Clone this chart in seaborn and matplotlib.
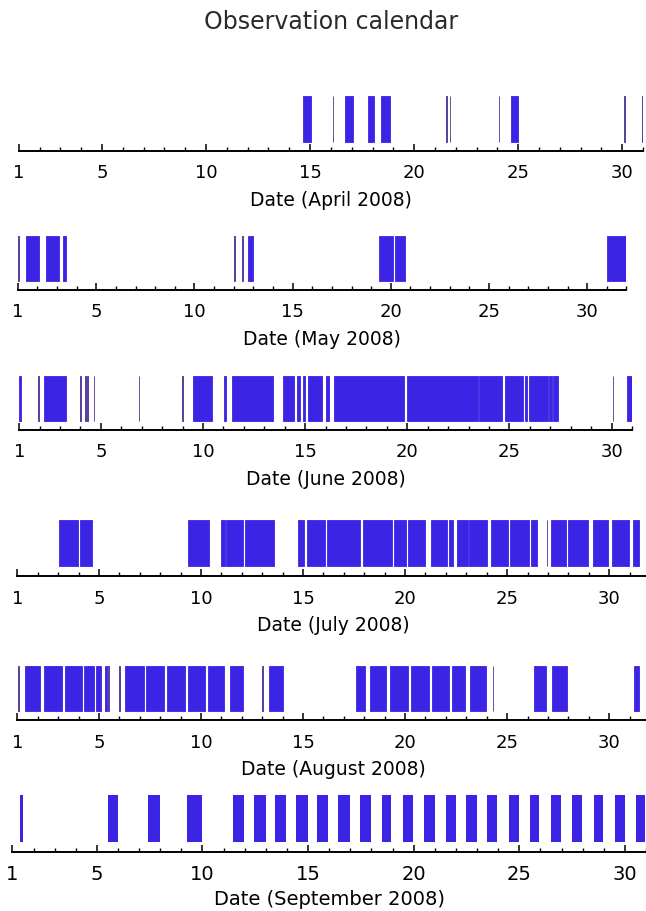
import numpy as np
import pandas as pd
import matplotlib
matplotlib.use("Agg")
import matplotlib.pyplot as plt
import seaborn as sns
from matplotlib.ticker import FixedLocator, MultipleLocator

# ---- data: observation intervals (day-of-month start, end) ----
months = ["April", "May", "June", "July", "August", "September"]

april = [(14.65, 15.05), (16.08, 16.12), (16.69, 17.08), (17.76, 18.08), (18.39, 18.83),
         (21.53, 21.56), (21.71, 21.74), (24.07, 24.10), (24.67, 25.0), (30.11, 30.14),
         (30.94, 31.0)]
may = [(1.02, 1.05), (1.4, 2.1), (2.45, 3.1), (3.31, 3.46), (12.02, 12.05), (12.44, 12.47),
       (12.73, 13.0), (19.42, 20.09), (20.2, 20.73), (31.0, 32.0)]
june = [(1.0, 1.07), (1.93, 1.96), (2.2, 3.29), (3.98, 4.01), (4.24, 4.29), (4.32, 4.36),
        (4.65, 4.68), (6.85, 6.88), (8.99, 9.02), (9.52, 10.44), (11.01, 11.13), (11.4, 13.41),
        (13.93, 14.46), (14.58, 14.74), (14.88, 15.0), (15.14, 15.83), (16.0, 16.19),
        (16.43, 19.82), (19.98, 23.45), (23.53, 24.66), (24.76, 25.66), (25.76, 25.87),
        (25.97, 26.88), (26.96, 27.08), (27.14, 27.38), (30.05, 30.08), (30.75, 31.0)]
july = [(3.02, 3.95), (4.05, 4.68), (9.36, 10.37), (10.98, 11.16), (11.22, 12.07), (12.15, 13.59),
        (14.74, 15.06), (15.2, 16.07), (16.15, 17.77), (17.93, 19.34), (19.44, 20.05),
        (20.15, 21.0), (21.26, 22.07), (22.17, 22.37), (22.53, 23.08), (23.14, 23.99),
        (24.19, 25.04), (25.12, 26.05), (26.15, 26.47), (26.93, 26.96), (27.16, 27.87),
        (27.99, 28.98), (29.2, 29.95), (30.15, 30.96), (31.16, 31.46)]
august = [(1.05, 1.08), (1.4, 2.11), (2.33, 3.18), (3.32, 4.15), (4.29, 4.76), (4.84, 5.1),
          (5.3, 5.4), (5.44, 5.5), (5.99, 6.02), (6.27, 7.22), (7.32, 8.19), (8.33, 9.2),
          (9.34, 10.19), (10.35, 11.12), (11.4, 12.07), (13.01, 13.04), (13.32, 14.01),
          (17.6, 18.05), (18.29, 19.08), (19.28, 20.15), (20.31, 21.16), (21.3, 22.13),
          (22.31, 22.94), (23.18, 23.95), (24.3, 24.33), (26.31, 26.92), (27.22, 27.93),
          (31.2, 31.46)]
september = [(1.37, 1.45), (5.52, 5.93), (7.41, 7.92), (9.28, 9.34), (9.42, 9.93), (11.43, 11.92),
             (12.46, 12.95), (13.42, 13.9), (14.45, 14.96), (15.42, 15.91), (16.44, 16.95),
             (17.47, 17.92), (18.49, 18.58), (18.64, 18.7), (18.76, 18.9), (19.48, 19.91),
             (20.49, 20.94), (21.51, 21.96), (22.5, 22.93), (23.48, 23.9), (24.51, 24.94),
             (25.5, 25.91), (26.5, 26.93), (27.51, 27.9), (28.52, 28.93), (29.52, 29.95),
             (30.53, 30.92)]

month_end = [31, 32, 31, 32, 32, 31]
major_ticks = [1, 5, 10, 15, 20, 25, 30]
tick_labels = ["1", "5", "10", "15", "20", "25", "30"]
title = "Observation calendar"

intervals = [april, may, june, july, august, september]

# ---- style ----
sns.set_theme(style="white")
plt.rcParams["font.family"] = ["DejaVu Sans"]

W, H = 646, 912
fig = plt.figure(figsize=(W / 100, H / 100), dpi=100)

# layout in pixels: (axis line y, bar top y, bar bottom y, left x, right x)
layout = [
    (152, 97, 143, 18.8, 643),
    (291, 237, 282, 17.7, 626.5),
    (431, 377, 422, 19.2, 632),
    (577, 521, 567, 17.3, 650),
    (721, 667, 712, 17.3, 650),
    (853, 796, 842, 12.4, 646),
]

bar_color = "#3c24e4"
thin_color = "#4a3398"

for i, (m, ivs, xmax, (ay, ty, by, lx, rx)) in enumerate(zip(months, intervals, month_end, layout)):
    ax = fig.add_axes([lx / W, 1 - ay / H, (rx - lx) / W, (ay - ty) / H])
    df = pd.DataFrame(ivs, columns=["start", "end"])
    df["width"] = df["end"] - df["start"]
    b = (ay - by) / (ay - ty)
    last = (i == 5)
    if last:
        cols = [bar_color] * len(df)
    else:
        cols = [thin_color if w < 0.06 else bar_color for w in df["width"]]
    ax.broken_barh(list(zip(df["start"], df["width"])), (b, 1 - b),
                   facecolors=cols, edgecolors=cols,
                   linewidth=0.5 if last else 0.6,
                   antialiased=not last)
    ax.set_xlim(1, xmax)
    ax.set_ylim(0, 1)
    sns.despine(ax=ax, left=True, top=True, right=True, bottom=False)
    ax.spines["bottom"].set_color("black")
    ax.spines["bottom"].set_linewidth(1.4)
    ax.set_yticks([])
    ax.xaxis.set_major_locator(FixedLocator(major_ticks))
    ax.xaxis.set_minor_locator(MultipleLocator(1))
    ax.set_xticklabels(tick_labels)
    fs_tick = 14 if last else 13
    fs_lab = 14 if last else 13.5
    ax.tick_params(axis="x", which="major", direction="in", length=5, width=1.1,
                   color="black", labelsize=fs_tick, pad=9, bottom=True, labelcolor="black")
    ax.tick_params(axis="x", which="minor", direction="in", length=3, width=1.0,
                   color="black", bottom=True)
    ax.set_xlabel(f"Date ({m} 2008)", fontsize=fs_lab, color="black",
                  labelpad=4 if last else 6)
    ax.patch.set_alpha(0)

fig.text(331 / W, 1 - 22 / H, title, ha="center", va="center", fontsize=17, color="#2a2a2a")

fig.savefig("out.png", dpi=100, facecolor="white")
